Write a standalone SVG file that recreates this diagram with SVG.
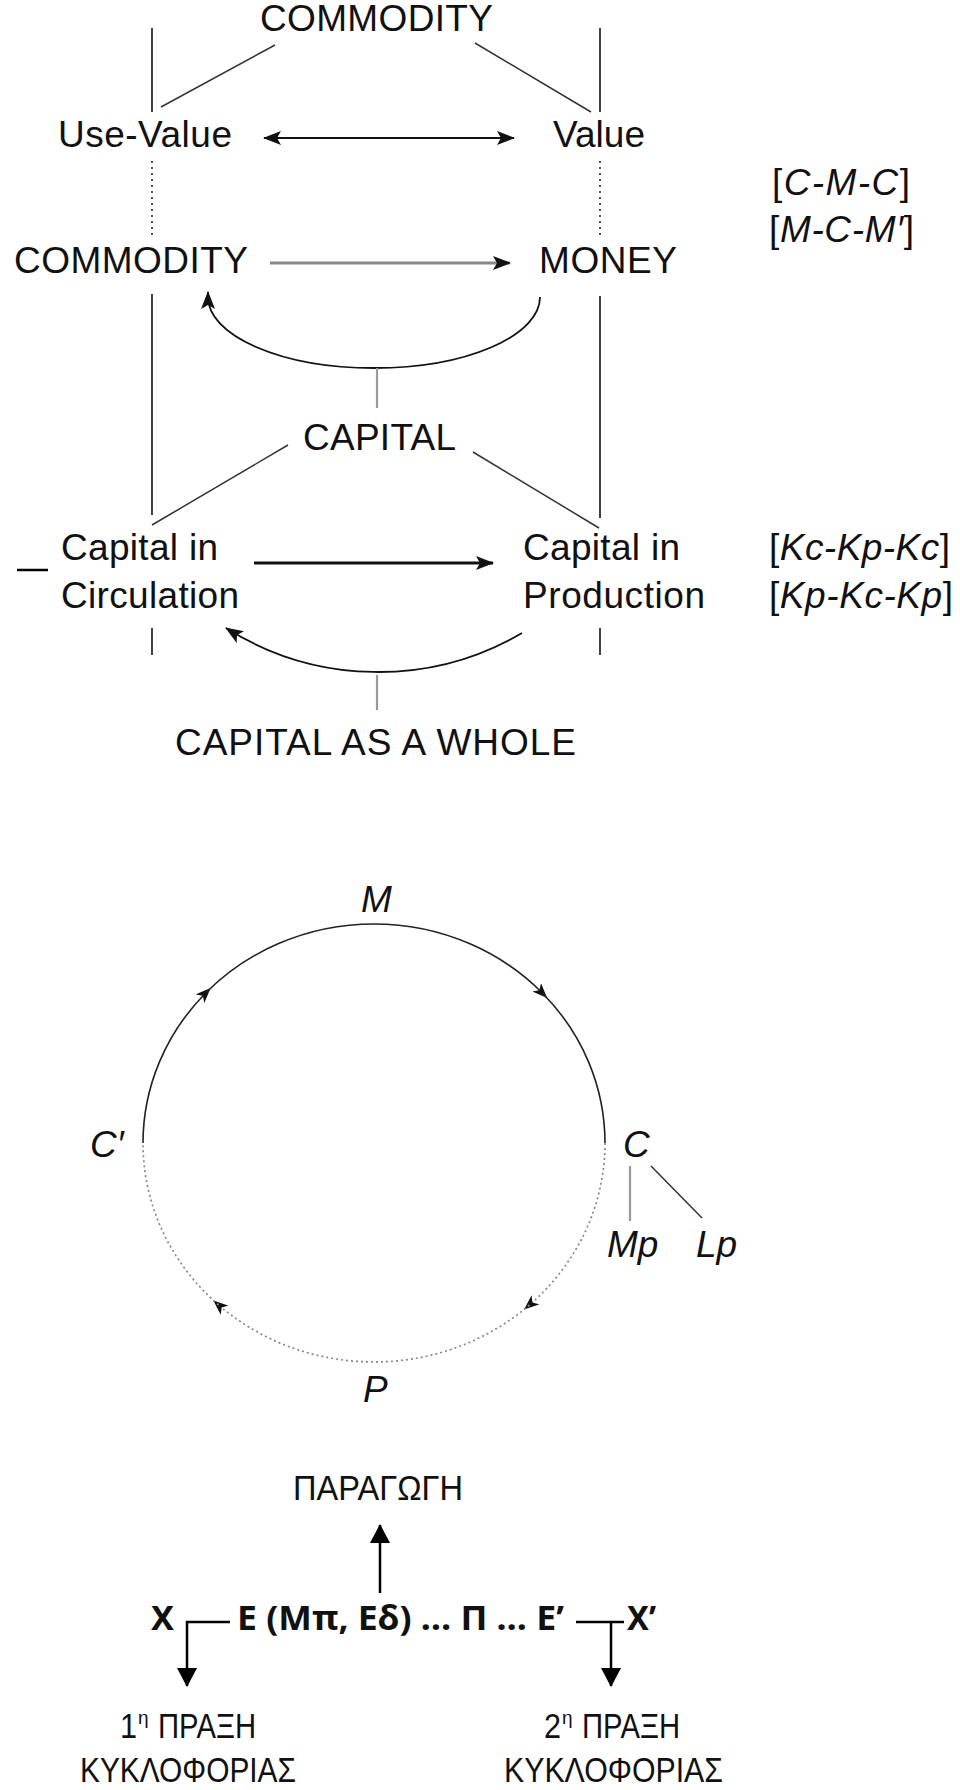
<svg xmlns="http://www.w3.org/2000/svg" width="960" height="1790" viewBox="0 0 960 1790">
<style>
.t{font-family:"Liberation Sans",Arial,sans-serif;font-size:37px;fill:#111}
.i{font-style:italic}
.g{font-family:"Liberation Sans",Arial,sans-serif;font-size:35px;fill:#111}
.gs2{font-family:"Liberation Sans",Arial,sans-serif;font-size:19px;fill:#111}
.gb{font-family:"Noto Sans","Open Sans",sans-serif;font-size:34px;font-weight:bold;fill:#111}
.v{stroke:#111;stroke-width:1.6;fill:none}
.d{stroke:#333;stroke-width:1.5;fill:none}
.dot{stroke:#222;stroke-width:1.6;stroke-dasharray:2 4;fill:none}
.gs{stroke:#999;stroke-width:2.2;fill:none}
.ar{stroke:#111;fill:none}
.cs{stroke:#222;stroke-width:1.6;fill:none}
.cd{stroke:#888;stroke-width:1.7;stroke-dasharray:2 3;fill:none}
.bl{stroke:#000;stroke-width:2.5;fill:none}
</style>
<defs>
<marker id="ah" markerUnits="userSpaceOnUse" markerWidth="20" markerHeight="14" refX="17" refY="7" orient="auto">
<path d="M0,0 L18,7 L0,14 L4,7 z" fill="#111"/>
</marker>
<marker id="ahs" markerUnits="userSpaceOnUse" markerWidth="20" markerHeight="14" refX="17" refY="7" orient="auto-start-reverse">
<path d="M0,0 L18,7 L0,14 L4,7 z" fill="#111"/>
</marker>
<marker id="ac" markerUnits="userSpaceOnUse" markerWidth="16" markerHeight="12" refX="8" refY="6" orient="auto">
<path d="M0,0 L15,6 L0,12 L4,6 z" fill="#111"/>
</marker>
<marker id="tri" markerUnits="userSpaceOnUse" markerWidth="22" markerHeight="22" refX="18" refY="10" orient="auto">
<path d="M0,0 L19,10 L0,20 z" fill="#000"/>
</marker>
</defs>

<g id="connectors">
  <line class="v" x1="152" y1="28" x2="152" y2="112"/>
  <line class="v" x1="600" y1="28" x2="600" y2="112"/>
  <line class="dot" x1="152" y1="161" x2="152" y2="239"/>
  <line class="dot" x1="600" y1="161" x2="600" y2="239"/>
  <line class="v" x1="152" y1="294" x2="152" y2="515"/>
  <line class="v" x1="600" y1="296" x2="600" y2="518"/>
  <line class="v" x1="152" y1="628" x2="152" y2="655"/>
  <line class="v" x1="600" y1="628" x2="600" y2="655"/>
  <line class="d" x1="275" y1="45" x2="161" y2="107"/>
  <line class="d" x1="475" y1="43" x2="591" y2="112"/>
  <line class="d" x1="288" y1="445" x2="152" y2="525"/>
  <line class="d" x1="473" y1="452" x2="599" y2="528"/>
  <line class="ar" stroke-width="2.2" x1="264" y1="138" x2="514" y2="138" marker-start="url(#ahs)" marker-end="url(#ah)"/>
  <line stroke="#888" stroke-width="3.2" x1="270" y1="263" x2="510" y2="263" marker-end="url(#ah)"/>
  <line class="ar" stroke-width="3" x1="254" y1="563" x2="493" y2="563" marker-end="url(#ah)"/>
  <path class="ar" stroke-width="1.8" d="M540,297 A166,71 0 0 1 208,297 L208,292" marker-end="url(#ah)"/>
  <path class="ar" stroke-width="1.8" d="M522,633 A285,285 0 0 1 226,628" marker-end="url(#ah)"/>
  <line class="gs" x1="377" y1="368" x2="377" y2="408"/>
  <line class="gs" x1="377" y1="675" x2="377" y2="710"/>
  <line class="bl" x1="17" y1="570" x2="48" y2="570"/>
  <path class="cs" d="M143,1143 A231,219 0 0 1 205.7,993" marker-end="url(#ac)"/>
  <path class="cs" d="M205.7,993 A231,219 0 0 1 542.3,993" marker-end="url(#ac)"/>
  <path class="cs" d="M542.3,993 A231,219 0 0 1 605,1143"/>
  <path class="cd" d="M605,1143 A231,219 0 0 1 529.4,1305" marker-end="url(#ac)"/>
  <path class="cd" d="M529.4,1305 A231,219 0 0 1 218.6,1305" marker-end="url(#ac)"/>
  <path class="cd" d="M218.6,1305 A231,219 0 0 1 143,1143"/>
  <line class="gs" x1="630" y1="1166" x2="630" y2="1221"/>
  <line class="d" x1="651" y1="1166" x2="702" y2="1218"/>
  <line class="bl" x1="380" y1="1593" x2="380" y2="1525" marker-end="url(#tri)"/>
  <polyline class="bl" points="230,1622 187,1622 187,1686" marker-end="url(#tri)"/>
  <line class="bl" x1="576" y1="1622" x2="624" y2="1622"/>
  <line class="bl" x1="611" y1="1622" x2="611" y2="1686" marker-end="url(#tri)"/>
</g>

<g id="n-commodity-top"><text class="t" x="260" y="31" textLength="233">COMMODITY</text></g>
<g id="n-use-value"><text class="t" x="58" y="147" textLength="174">Use-Value</text></g>
<g id="n-value"><text class="t" x="553" y="147" textLength="92">Value</text></g>
<g id="n-commodity"><text class="t" x="14" y="273" textLength="234">COMMODITY</text></g>
<g id="n-money"><text class="t" x="539" y="273" textLength="138">MONEY</text></g>
<g id="n-cmc"><text class="t" x="772" y="195" textLength="138">[<tspan class="i">C-M-C</tspan>]</text></g>
<g id="n-mcm"><text class="t" x="769" y="242" textLength="145">[<tspan class="i">M-C-M′</tspan>]</text></g>
<g id="n-capital"><text class="t" x="303" y="450" textLength="153">CAPITAL</text></g>
<g id="n-circ"><text class="t" x="61" y="560" textLength="157">Capital in</text><text class="t" x="61" y="608" textLength="178">Circulation</text></g>
<g id="n-prod"><text class="t" x="523" y="560" textLength="157">Capital in</text><text class="t" x="523" y="608" textLength="182">Production</text></g>
<g id="n-kc"><text class="t" x="769" y="560" textLength="181">[<tspan class="i">Kc-Kp-Kc</tspan>]</text><text class="t" x="769" y="608" textLength="184">[<tspan class="i">Kp-Kc-Kp</tspan>]</text></g>
<g id="n-whole"><text class="t" x="175" y="755" textLength="401">CAPITAL AS A WHOLE</text></g>

<g id="n-M"><text class="t i" x="361" y="912">M</text></g>
<g id="n-Cp"><text class="t i" x="90" y="1157">C′</text></g>
<g id="n-C"><text class="t i" x="623" y="1157">C</text></g>
<g id="n-Mp"><text class="t i" x="607" y="1257">Mp</text></g>
<g id="n-Lp"><text class="t i" x="696" y="1257">Lp</text></g>
<g id="n-P"><text class="t i" x="363" y="1402">P</text></g>

<g id="n-paragogi"><text class="g" x="293" y="1500" textLength="170" lengthAdjust="spacingAndGlyphs">ΠΑΡΑΓΩΓΗ</text></g>
<g id="n-formula">
  <text class="gb" x="151" y="1630" textLength="23" lengthAdjust="spacingAndGlyphs">Χ</text>
  <text class="gb" x="237" y="1630" textLength="327" lengthAdjust="spacingAndGlyphs">Ε (Μπ, Εδ) … Π … Ε’</text>
  <text class="gb" x="627" y="1630" textLength="29" lengthAdjust="spacingAndGlyphs">Χ’</text>
</g>
<g id="n-praxi1">
  <text class="g" x="120" y="1738" textLength="17" lengthAdjust="spacingAndGlyphs">1</text>
  <text class="gs2" x="138" y="1724">η</text>
  <text class="g" x="158" y="1738" textLength="98" lengthAdjust="spacingAndGlyphs">ΠΡΑΞΗ</text>
  <text class="g" x="80" y="1782" textLength="216" lengthAdjust="spacingAndGlyphs">ΚΥΚΛΟΦΟΡΙΑΣ</text>
</g>
<g id="n-praxi2">
  <text class="g" x="544" y="1738" textLength="17" lengthAdjust="spacingAndGlyphs">2</text>
  <text class="gs2" x="562" y="1724">η</text>
  <text class="g" x="582" y="1738" textLength="98" lengthAdjust="spacingAndGlyphs">ΠΡΑΞΗ</text>
  <text class="g" x="504" y="1782" textLength="219" lengthAdjust="spacingAndGlyphs">ΚΥΚΛΟΦΟΡΙΑΣ</text>
</g>
</svg>
